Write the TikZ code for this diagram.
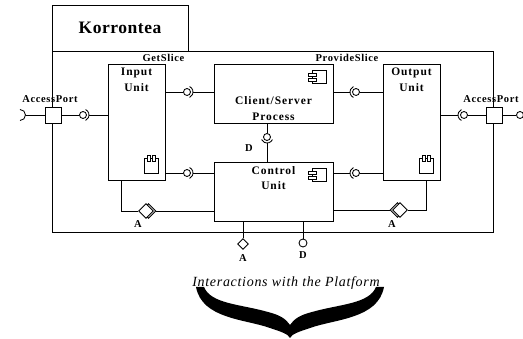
\documentclass[tikz,border=0pt]{standalone}
\usepackage{fontspec}
\setmainfont{Liberation Serif}
\newfontfamily\labelfont[LetterSpace=6]{Liberation Serif}
\newfontfamily\unitfont[LetterSpace=8]{Liberation Serif}
\newfontfamily\namefont[LetterSpace=3]{Liberation Serif}
\newfontfamily\notefont[LetterSpace=5]{Liberation Serif}
\usetikzlibrary{positioning,shapes.geometric}

\begin{document}
\begin{tikzpicture}[x=1pt, y=-1pt, line width=0.85pt,
    frame/.style={draw, inner sep=0pt},
    unit/.style={draw, fill=white, minimum width=57pt, minimum height=116pt, inner sep=0pt},
    proc/.style={draw, fill=white, minimum width=119pt, minimum height=59pt, inner sep=0pt},
    unittext/.style={align=center, inner sep=0pt, font=\unitfont\bfseries\fontsize{11.5}{15.5}\selectfont},
    lbl/.style={inner sep=0pt, font=\labelfont\bfseries\fontsize{10.5}{12}\selectfont},
    port/.style={draw, fill=white, minimum size=16pt, inner sep=0pt},
    ball/.style={draw, circle, fill=white, minimum size=7pt, inner sep=0pt},
    adiam/.style={draw, diamond, fill=white, minimum size=15pt, inner sep=0pt}
]
\useasboundingbox (0,0) rectangle (523,339);

% component frame
\node[frame, minimum width=136pt, minimum height=46pt, font=\namefont\bfseries\fontsize{17.5}{20}\selectfont] (title) at (120,28) {Korrontea};
\node[frame, minimum width=441pt, minimum height=181pt] (main) at (272.5,141.5) {};

% units
\node[unit] (input) at (136.5,122) {};
\node[unit] (output) at (411.5,122) {};
\node[proc] (client) at (273.5,93.5) {};
\node[proc] (control) at (273.5,191.5) {};

\node[unittext, below=4pt of input.north] (inputtxt) {Input\\Unit};
\node[unittext, below=4pt of output.north] (outputtxt) {Output\\Unit};
\node[unittext, below=33pt of client.north] (clienttxt) {Client/Server\\Process};
\node[unittext, below=4.5pt of control.north] (controltxt) {Control\\Unit};

\node[lbl] (getslice) at (163.5,58) {GetSlice};
\node[lbl] (provideslice) at (347,58) {ProvideSlice};

% icons
\foreach \n in {client, control} {
  \draw ([shift={(-21,7)}]\n.north east) rectangle ([shift={(-7,20)}]\n.north east);
  \draw[fill=white] ([shift={(-25,9.5)}]\n.north east) rectangle ([shift={(-17,12.5)}]\n.north east);
  \draw[fill=white] ([shift={(-25,14.5)}]\n.north east) rectangle ([shift={(-17,17.5)}]\n.north east);
}
\foreach \n in {input, output} {
  \draw ([shift={(-21,-22)}]\n.south east) rectangle ([shift={(-7,-7)}]\n.south east);
  \draw[fill=white] ([shift={(-18.5,-25)}]\n.south east) rectangle ([shift={(-15.5,-19)}]\n.south east);
  \draw[fill=white] ([shift={(-13.5,-25)}]\n.south east) rectangle ([shift={(-10.5,-19)}]\n.south east);
}

% ports
\node[port] (lport) at (53,115) {};
\node[port] (rport) at (494,115) {};
\node[lbl] (laccess) at (50,99) {AccessPort};
\node[lbl] (raccess) at (491,99) {AccessPort};

\coordinate (lsock) at (20,115);
\node[ball] (lball) at (83,115) {};
\node[ball] (icball) at (187,92) {};
\node[ball] (ikball) at (187,173) {};
\node[ball] (coball) at (356,92) {};
\node[ball] (koball) at (356,173) {};
\node[ball] (orball) at (464,115) {};
\node[ball] (dball) at (267,137) {};
\node[ball] (rball) at (520,115) {};

% sockets
\draw ([shift={(-90:5.5)}]lsock) arc[start angle=-90, end angle=90, radius=5.5];
\foreach \b in {lball, icball, ikball}
  \draw ([shift={(-65:6)}]\b.center) arc[start angle=-65, end angle=65, radius=6];
\foreach \b in {coball, koball, orball}
  \draw ([shift={(115:6)}]\b.center) arc[start angle=115, end angle=245, radius=6];
\draw ([shift={(25:6)}]dball.center) arc[start angle=25, end angle=155, radius=6];

% connectors
\draw ([xshift=5.5pt]lsock) -- (lport);
\draw (lport) -- (lball);
\draw ([xshift=6pt]lball.center) -- (input.west |- lball);
\draw (input.east |- icball) -- (icball);
\draw ([xshift=6pt]icball.center) -- (client.west |- icball);
\draw (input.east |- ikball) -- (ikball);
\draw ([xshift=6pt]ikball.center) -- (control.west |- ikball);
\draw (client.east |- coball) -- ([xshift=-6pt]coball.center);
\draw (coball) -- (output.west |- coball);
\draw (control.east |- koball) -- ([xshift=-6pt]koball.center);
\draw (koball) -- (output.west |- koball);
\draw (output.east |- orball) -- ([xshift=-6pt]orball.center);
\draw (orball) -- (rport);
\draw (rport) -- (rball);
\draw (client.south -| dball) -- (dball);
\draw ([yshift=-6pt]dball.center) -- (control.north -| dball);
\node[lbl] (dlabel) at (249,148) {D};

% adaptors
\node[adiam] (ldiamsh) at (148.5,211) {};
\node[adiam] (ldiam) at (146,211) {};
\node[adiam] (rdiamsh) at (397.5,210) {};
\node[adiam] (rdiam) at (400,210) {};
\coordinate (lbend) at (121,211);
\coordinate (rbend) at (426,210);
\draw (input.south -| lbend) -- (lbend) -- (ldiam);
\draw (ldiamsh) -- (control.west |- ldiamsh);
\draw (control.east |- rdiamsh) -- (rdiamsh);
\draw (rdiam) -- (rbend) -- (output.south -| rbend);
\node[lbl] (la) at (138,224) {A};
\node[lbl] (ra) at (392,224) {A};

% platform side
\node[adiam, minimum size=11pt] (bdiam) at (243,244) {};
\node[ball, minimum size=8pt] (bball) at (303,243) {};
\draw (control.south -| bdiam) -- (bdiam);
\draw (control.south -| bball) -- (bball);
\node[lbl, below=4pt of bdiam] (ba) {A};
\node[lbl, below=3.5pt of bball] (bd) {D};

\node[inner sep=0pt, font=\notefont\itshape\fontsize{14}{16}\selectfont] (platform) at (286,283) {Interactions with the Platform};
\fill (196,287) .. controls (202,319) and (245,319) .. (270,328) .. controls (282,332) and (288,334) .. (290,338)
  .. controls (292,334) and (298,332) .. (310,328) .. controls (335,319) and (378,319) .. (384,287) -- (376,287)
  .. controls (369,304) and (340,304) .. (312,312) .. controls (300,315) and (294,319) .. (290,325)
  .. controls (286,319) and (280,315) .. (268,312) .. controls (240,304) and (211,304) .. (204,287) -- cycle;
\end{tikzpicture}
\end{document}
